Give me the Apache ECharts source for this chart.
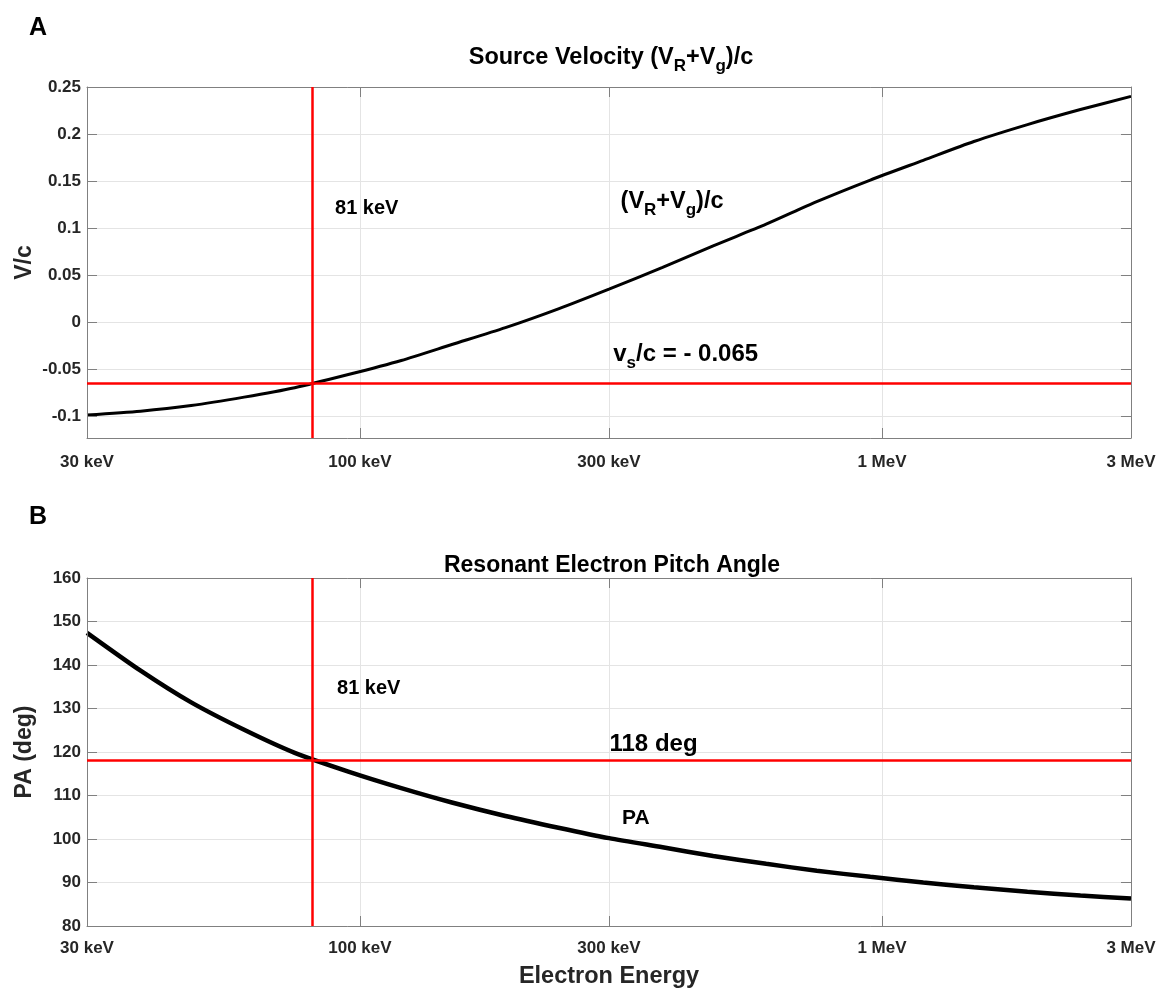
<!DOCTYPE html>
<html>
<head>
<meta charset="utf-8">
<script src="https://cdn.jsdelivr.net/npm/echarts@6/dist/echarts.min.js"></script>
<style>
  html, body { margin: 0; padding: 0; background: #fff; }
  #chart { width: 1160px; height: 990px; }
</style>
</head>
<body>
<div id="chart"></div>
<script>
// electron energy in keV
const energyTop = [30, 38, 47.5, 60, 75, 95, 120, 150, 190, 240, 300, 380, 475, 600, 750, 950, 1200, 1500, 1900, 2400, 3000];
const sourceVelocity = [-0.099, -0.095, -0.089, -0.080, -0.070, -0.056, -0.041, -0.024, -0.006, 0.014, 0.035, 0.058, 0.081, 0.104, 0.128, 0.151, 0.172, 0.192, 0.210, 0.226, 0.240];

const energyBottom = [30, 38, 47.5, 60, 75, 95, 120, 150, 190, 240, 300, 380, 475, 600, 750, 950, 1200, 1500, 1900, 2400, 3000];
const pitchAngle = [147.4, 138.7, 131.4, 125.1, 119.8, 115.5, 111.7, 108.4, 105.3, 102.6, 100.2, 98.1, 96.1, 94.3, 92.7, 91.3, 90.0, 88.9, 87.9, 87.0, 86.3];

const xTickValues = [30, 100, 300, 1000, 3000];
const xTickLabels = ['30 keV', '100 keV', '300 keV', '1 MeV', '3 MeV'];
const xGridValues = [100, 300, 1000];
const yTicksTop = [-0.1, -0.05, 0, 0.05, 0.1, 0.15, 0.2, 0.25];
const yTicksBottom = [80, 90, 100, 110, 120, 130, 140, 150, 160];

const resonantEnergy = 81;
const sourceSpeed = -0.065;
const resonantPA = 118;

const FONT = '"Liberation Sans", Arial, Helvetica, sans-serif';
const BOX = '#808080';
const TXT = '#262626';
const lg = Math.log10;

const chart = echarts.init(document.getElementById('chart'));

const xLabel = v => {
  let best = 0;
  xTickValues.forEach((t, i) => { if (Math.abs(lg(t) - v) < Math.abs(lg(xTickValues[best]) - v)) best = i; });
  return xTickLabels[best];
};

function xAxes(grid, top, margin) {
  const ticks = xTickValues.map(lg);
  return [
    {
      gridIndex: grid, type: 'value', position: 'bottom', min: lg(30), max: lg(3000), z: 4,
      axisLine: { show: true, onZero: false, lineStyle: { color: BOX, width: 1 } },
      axisTick: { show: true, inside: true, length: 10, customValues: ticks, lineStyle: { color: BOX } },
      axisLabel: { customValues: ticks, formatter: xLabel, color: TXT, fontWeight: 'bold', fontSize: 17, fontFamily: FONT, margin: margin },
      splitLine: { show: false },
      name: top ? '' : 'Electron Energy', nameLocation: 'middle', nameGap: 39,
      nameTextStyle: { color: TXT, fontWeight: 'bold', fontSize: 23.5, fontFamily: FONT }
    },
    {
      gridIndex: grid, type: 'value', position: 'top', min: lg(30), max: lg(3000), z: 4,
      axisLine: { show: true, onZero: false, lineStyle: { color: BOX, width: 1 } },
      axisTick: { show: true, inside: true, length: 10, customValues: ticks, lineStyle: { color: BOX } },
      axisLabel: { show: false }, splitLine: { show: false }
    }
  ];
}

function yAxes(grid, min, max, ticks, name) {
  return [
    {
      gridIndex: grid, type: 'value', position: 'left', min: min, max: max, z: 4,
      axisLine: { show: true, onZero: false, lineStyle: { color: BOX, width: 1 } },
      axisTick: { show: true, inside: true, length: 10, customValues: ticks, lineStyle: { color: BOX } },
      axisLabel: { customValues: ticks, color: TXT, fontWeight: 'bold', fontSize: 17, fontFamily: FONT, margin: 6 },
      splitLine: { show: false },
      name: name, nameLocation: 'middle', nameGap: 51, nameMoveOverlap: false,
      nameTextStyle: { color: TXT, fontWeight: 'bold', fontSize: 23, fontFamily: FONT }
    },
    {
      gridIndex: grid, type: 'value', position: 'right', min: min, max: max, z: 4,
      axisLine: { show: true, onZero: false, lineStyle: { color: BOX, width: 1 } },
      axisTick: { show: true, inside: true, length: 10, customValues: ticks, lineStyle: { color: BOX } },
      axisLabel: { show: false }, splitLine: { show: false }
    }
  ];
}

const rich = {
  b: { fontSize: 23.5, fontWeight: 'bold', fontFamily: FONT, color: '#000', padding: [0, 0, 5, 0], verticalAlign: 'bottom' },
  s: { fontSize: 17, fontWeight: 'bold', fontFamily: FONT, color: '#000', verticalAlign: 'bottom' },
  v: { fontSize: 24, fontWeight: 'bold', fontFamily: FONT, color: '#000', padding: [0, 0, 5, 0], verticalAlign: 'bottom' },
  c: { fontSize: 24, fontWeight: 'bold', fontFamily: FONT, color: '#000' },
  m: { fontSize: 20, fontWeight: 'bold', fontFamily: FONT, color: '#000' },
  p: { fontSize: 21, fontWeight: 'bold', fontFamily: FONT, color: '#000' }
};

function gridSeries(xi, yi, ticks) {
  return {
    type: 'line', xAxisIndex: xi, yAxisIndex: yi, data: [], silent: true, z: 1,
    markLine: {
      z: 1, silent: true, symbol: ['none', 'none'], label: { show: false }, animation: false, precision: 8,
      lineStyle: { color: '#e4e4e4', width: 1, type: 'solid' },
      data: ticks.map(v => ({ yAxis: v })).concat(xGridValues.map(v => ({ xAxis: lg(v) })))
    }
  };
}

function redLines(xi, yi, yValue) {
  return {
    type: 'line', xAxisIndex: xi, yAxisIndex: yi, data: [], z: 5, silent: true,
    markLine: {
      z: 5, silent: true, symbol: ['none', 'none'], label: { show: false }, animation: false, precision: 8,
      lineStyle: { color: '#ff0000', width: 2.5, type: 'solid' },
      data: [{ xAxis: lg(resonantEnergy) }, { yAxis: yValue }]
    }
  };
}

function notes(items) {
  return {
    symbol: 'circle', symbolSize: 1, silent: true, animation: false,
    itemStyle: { color: 'rgba(0,0,0,0)' },
    label: { show: true, position: 'right', distance: 0, rich: rich },
    data: items.map(n => ({ coord: [lg(n[0]), n[1]], label: { formatter: n[2] } }))
  };
}

chart.setOption({
  animation: false,
  title: [
    { text: '{b|Source Velocity (V}{s|R}{b|+V}{s|g}{b|)/c}', left: 606, top: 41, textAlign: 'center',
      textStyle: { rich: rich } },
    { text: 'Resonant Electron Pitch Angle', left: 607, top: 549, textAlign: 'center',
      textStyle: { fontSize: 23, fontWeight: 'bold', fontFamily: FONT, color: '#000' } }
  ],
  graphic: [
    { type: 'text', left: 29, top: 16, style: { text: 'A', font: 'bold 25px ' + FONT, fill: '#000' } },
    { type: 'text', left: 29, top: 505, style: { text: 'B', font: 'bold 25px ' + FONT, fill: '#000' } }
  ],
  grid: [
    { left: 87, right: 29, top: 87, height: 351 },
    { left: 87, right: 29, top: 578, height: 352 }
  ],
  xAxis: xAxes(0, true, 16).concat(xAxes(1, false, 14)),
  yAxis: yAxes(0, -0.1235, 0.25, yTicksTop, 'V/c').concat(yAxes(1, 80, 160, yTicksBottom, 'PA (deg)')),
  series: [
    gridSeries(0, 0, yTicksTop),
    gridSeries(2, 2, yTicksBottom),
    {
      type: 'line', xAxisIndex: 0, yAxisIndex: 0, z: 3, symbol: 'none', smooth: 0.25,
      lineStyle: { color: '#000', width: 3 },
      data: energyTop.map((e, i) => [lg(e), sourceVelocity[i]]),
      markPoint: notes([
        [89.4, 0.121, '{m|81 keV}'],
        [315, 0.1256, '{b|(V}{s|R}{b|+V}{s|g}{b|)/c}'],
        [305, -0.0373, '{v|v}{s|s}{v|/c = - 0.065}']
      ])
    },
    {
      type: 'line', xAxisIndex: 2, yAxisIndex: 2, z: 3, symbol: 'none', smooth: 0.25,
      lineStyle: { color: '#000', width: 4.5 },
      data: energyBottom.map((e, i) => [lg(e), pitchAngle[i]]),
      markPoint: notes([
        [90.2, 134.5, '{m|81 keV}'],
        [300, 121.7, '{c|118 deg}'],
        [317, 104.7, '{p|PA}']
      ])
    },
    redLines(0, 0, sourceSpeed),
    redLines(2, 2, resonantPA)
  ]
});
</script>
</body>
</html>
